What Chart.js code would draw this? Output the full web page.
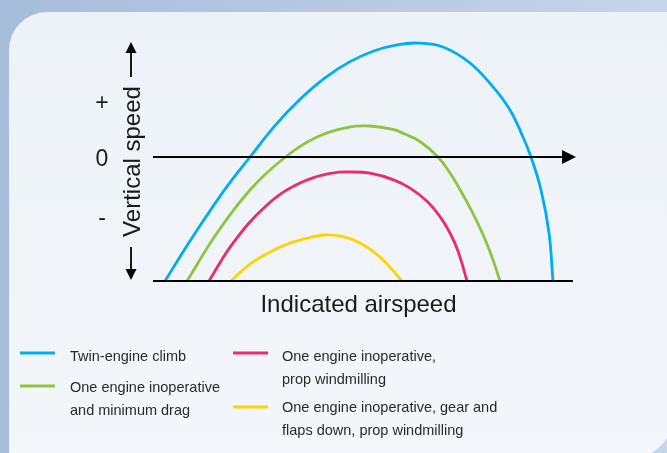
<!DOCTYPE html>
<html>
<head>
<meta charset="utf-8">
<script src="https://cdn.jsdelivr.net/npm/chart.js@4/dist/chart.umd.min.js"></script>
<style>
  html, body { margin: 0; padding: 0; background: #b3c7e0; }
  #wrap { width: 667px; height: 453px; position: relative; }
</style>
</head>
<body>
<div id="wrap"><canvas id="c" width="667" height="453"></canvas></div>
<script>
// Series data (x = indicated airspeed, arbitrary units 0-100; y = vertical speed, 0 = level, -100 = axis bottom)
const seriesLabels = [
  "Twin-engine climb",
  "One engine inoperative\nand minimum drag",
  "One engine inoperative,\nprop windmilling",
  "One engine inoperative, gear and\nflaps down, prop windmilling"
];
const seriesColors = ["#00aeef", "#8cc63f", "#ec2a6f", "#ffd200"];

const twinX = [2.84, 7.57, 12.29, 17.73, 22.93, 28.84, 34.75, 40.66, 46.57, 52.48, 57.68, 62.65, 68.56, 74.94, 80.38, 84.40, 87.47, 89.36, 91.73, 93.62, 94.56];
const twinY = [-100, -74.0, -49.4, -22.7, 0, 25.3, 46.5, 63.8, 76.9, 85.9, 90.5, 91.9, 88.7, 75.8, 56.5, 37.9, 16.1, 0, -26.6, -61.3, -100];

const minDragX = [8.04, 15.13, 22.93, 30.73, 38.77, 46.57, 51.30, 56.74, 59.57, 63.12, 67.38, 70.21, 72.58, 75.41, 78.01, 80.14, 82.03];
const minDragY = [-100, -61.3, -26.6, -1.6, 16.1, 24.2, 25.0, 22.2, 18.5, 12.5, 0, -12.9, -26.2, -44.0, -62.5, -80.6, -100];

const windmillX = [13.24, 18.91, 26.95, 34.75, 42.55, 47.28, 51.30, 56.74, 60.76, 64.78, 67.85, 70.21, 72.10, 74.23];
const windmillY = [-100, -69.4, -38.7, -21.0, -12.9, -12.1, -13.1, -18.2, -25.1, -35.7, -48.1, -61.3, -75.8, -100];

const gearFlapsX = [18.44, 22.93, 27.66, 32.39, 37.12, 40.66, 44.68, 48.94, 53.66, 58.87];
const gearFlapsY = [-100, -86.3, -76.6, -69.4, -64.9, -62.9, -64.1, -69.4, -80.6, -100];

const axisXLabel = "Indicated airspeed";
const axisYLabel = "Vertical speed";
const yTickLabels = ["+", "0", "-"];
const yTickValues = [43, -2, -50];

function pts(xs, ys) { return xs.map((x, i) => ({ x: x, y: ys[i] })); }

const FONT = '"Liberation Sans", Arial, Helvetica, sans-serif';

const bgPlugin = {
  id: 'bg',
  beforeDraw(chart) {
    const ctx = chart.ctx;
    const W = chart.width, H = chart.height;
    ctx.save();
    let g = ctx.createLinearGradient(0, 0, W, 0);
    g.addColorStop(0, '#a6bddb');
    g.addColorStop(0.5, '#b6c9e1');
    g.addColorStop(1, '#c5d5ea');
    ctx.fillStyle = g;
    ctx.fillRect(0, 0, W, H);
    // panel
    const x0 = 9, y0 = 12, x1 = 672, y1 = 458, r = 38;
    ctx.beginPath();
    ctx.moveTo(x0 + r, y0);
    ctx.lineTo(x1, y0);
    ctx.lineTo(x1, y1 - 40);
    ctx.arcTo(x1, y1, x1 - 40, y1, 40);
    ctx.lineTo(x0, y1);
    ctx.lineTo(x0, y0 + r);
    ctx.arcTo(x0, y0, x0 + r, y0, r);
    ctx.closePath();
    let pg = ctx.createLinearGradient(0, y0, 0, y1);
    pg.addColorStop(0, '#edf2f8');
    pg.addColorStop(0.6, '#f1f5fa');
    pg.addColorStop(1, '#f3f6fa');
    ctx.fillStyle = pg;
    ctx.fill();
    ctx.restore();
  }
};

const axesPlugin = {
  id: 'axesArrows',
  afterDatasetsDraw(chart) {
    const ctx = chart.ctx;
    const xs = chart.scales.x, ys = chart.scales.y;
    const left = xs.getPixelForValue(0);
    const right = xs.getPixelForValue(100);
    const y0 = ys.getPixelForValue(0);
    const yb = ys.getPixelForValue(-100);
    ctx.save();
    ctx.strokeStyle = '#000';
    ctx.fillStyle = '#000';
    // baseline
    ctx.lineWidth = 1.8;
    ctx.beginPath();
    ctx.moveTo(left, yb);
    ctx.lineTo(right - 3, yb);
    ctx.stroke();
    // zero line with arrow
    ctx.lineWidth = 2.2;
    ctx.beginPath();
    ctx.moveTo(left, y0);
    ctx.lineTo(right - 10, y0);
    ctx.stroke();
    ctx.beginPath();
    ctx.moveTo(right, y0);
    ctx.lineTo(right - 14, y0 - 7);
    ctx.lineTo(right - 14, y0 + 7);
    ctx.closePath();
    ctx.fill();

    // vertical axis arrow with label
    const ax = left - 22;
    const top = 42, bot = yb - 1;
    ctx.lineWidth = 1.8;
    ctx.beginPath();
    ctx.moveTo(ax, top + 8);
    ctx.lineTo(ax, 77);
    ctx.stroke();
    ctx.beginPath();
    ctx.moveTo(ax, top);
    ctx.lineTo(ax - 5.5, top + 11);
    ctx.lineTo(ax + 5.5, top + 11);
    ctx.closePath();
    ctx.fill();
    ctx.beginPath();
    ctx.moveTo(ax, 247);
    ctx.lineTo(ax, bot - 8);
    ctx.stroke();
    ctx.beginPath();
    ctx.moveTo(ax, bot);
    ctx.lineTo(ax - 5.5, bot - 11);
    ctx.lineTo(ax + 5.5, bot - 11);
    ctx.closePath();
    ctx.fill();

    // vertical label
    ctx.fillStyle = '#1a1a1a';
    ctx.font = '24px ' + FONT;
    ctx.save();
    ctx.translate(ax + 8.5, 161.5);
    ctx.rotate(-Math.PI / 2);
    ctx.textAlign = 'center';
    ctx.textBaseline = 'alphabetic';
    ctx.fillText(axisYLabel, 0, 0);
    ctx.restore();

    // tick labels + 0 -
    ctx.textAlign = 'center';
    ctx.textBaseline = 'middle';
    ctx.font = '23px ' + FONT;
    yTickLabels.forEach((t, i) => {
      const yy = ys.getPixelForValue(yTickValues[i]);
      ctx.fillText(t, 102, yy);
    });

    // x label
    ctx.textBaseline = 'alphabetic';
    ctx.font = '24px ' + FONT;
    ctx.fillText(axisXLabel, (left + right) / 2 - 6, 312);

    // legend
    const legendPos = [
      { lx: 20, ly: 353, tx: 70, tb: 361 },
      { lx: 20, ly: 386, tx: 70, tb: 392 },
      { lx: 233, ly: 353, tx: 282, tb: 361 },
      { lx: 233, ly: 407, tx: 282, tb: 412 }
    ];
    ctx.font = '14.5px ' + FONT;
    ctx.textAlign = 'left';
    chart.data.datasets.forEach((ds, i) => {
      const p = legendPos[i];
      ctx.strokeStyle = ds.borderColor;
      ctx.lineWidth = 3;
      ctx.beginPath();
      ctx.moveTo(p.lx, p.ly);
      ctx.lineTo(p.lx + 35, p.ly);
      ctx.stroke();
      ctx.fillStyle = '#2a2a2a';
      ds.label.split('\n').forEach((line, k) => {
        ctx.fillText(line, p.tx, p.tb + k * 22.5);
      });
    });
    ctx.restore();
  }
};

const datasets = [
  [twinX, twinY], [minDragX, minDragY], [windmillX, windmillY], [gearFlapsX, gearFlapsY]
].map((s, i) => ({
  label: seriesLabels[i],
  data: pts(s[0], s[1]),
  borderColor: seriesColors[i],
  backgroundColor: seriesColors[i],
  borderWidth: 2.8,
  pointRadius: 0,
  fill: false,
  tension: 0.4
}));

new Chart(document.getElementById('c'), {
  type: 'line',
  data: { datasets: datasets },
  options: {
    responsive: false,
    animation: false,
    layout: { padding: { left: 153, right: 91, top: 33, bottom: 172 } },
    plugins: { legend: { display: false }, tooltip: { enabled: false }, title: { display: false } },
    scales: {
      x: { type: 'linear', min: 0, max: 100, display: false },
      y: { type: 'linear', min: -100, max: 100, display: false }
    }
  },
  plugins: [bgPlugin, axesPlugin]
});
</script>
</body>
</html>
